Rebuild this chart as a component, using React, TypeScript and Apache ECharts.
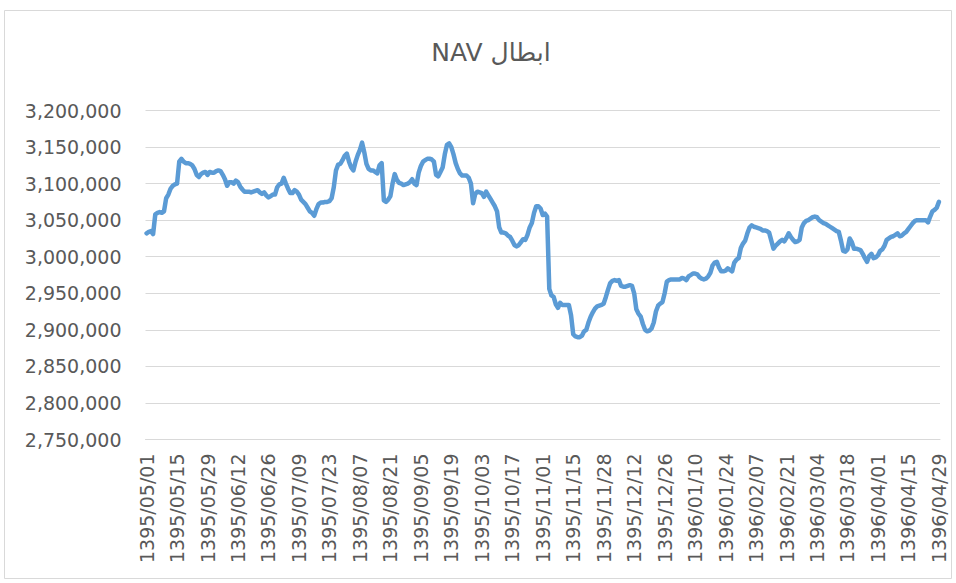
import React, { useEffect, useRef } from "react";
import * as echarts from "echarts";

const chartTitle = "NAV ابطال";

// Persian calendar months covered by the chart (year, month, number of days shown)
const calendarMonths = [
  { year: 1395, month: 5, days: 31 },
  { year: 1395, month: 6, days: 31 },
  { year: 1395, month: 7, days: 30 },
  { year: 1395, month: 8, days: 30 },
  { year: 1395, month: 9, days: 30 },
  { year: 1395, month: 10, days: 30 },
  { year: 1395, month: 11, days: 30 },
  { year: 1395, month: 12, days: 30 },
  { year: 1396, month: 1, days: 31 },
  { year: 1396, month: 2, days: 31 },
  { year: 1396, month: 3, days: 31 },
  { year: 1396, month: 4, days: 29 },
];
// the source sheet holds this date twice
const repeatedDate = "1395/11/21";

// NAV (ابطال) in thousands
const navA = [
  3032, 3034, 3035, 3031, 3058, 3060, 3061, 3060, 3062, 3080,
  3085, 3093, 3097, 3099, 3100, 3130, 3134, 3130, 3128, 3128,
  3127, 3125, 3120, 3112, 3109, 3113, 3115, 3116, 3112, 3116,
  3115, 3115, 3117, 3118, 3117, 3112, 3106, 3097, 3102, 3102,
  3100, 3104, 3102, 3096, 3092, 3089, 3089, 3089, 3088, 3089,
  3090, 3091, 3088, 3086, 3088, 3084, 3081, 3083, 3085, 3085,
];
const navB = [
  3095, 3099, 3100, 3108, 3100, 3093, 3087, 3087, 3091, 3089,
  3085, 3078, 3075, 3072, 3067, 3062, 3060, 3056, 3065, 3072,
  3074, 3074, 3075, 3075, 3076, 3080, 3095, 3118, 3126, 3127,
  3132, 3138, 3141, 3130, 3122, 3118, 3130, 3139, 3146, 3156,
  3143, 3127, 3120, 3118, 3118, 3116, 3114, 3125, 3128, 3077,
  3075, 3078, 3083, 3100, 3113, 3105, 3101, 3100, 3098, 3099,
];
const navC = [
  3100, 3102, 3106, 3100, 3098, 3115, 3124, 3130, 3132, 3134,
  3134, 3133, 3130, 3112, 3110, 3116, 3122, 3140, 3153, 3155,
  3150, 3140, 3128, 3120, 3114, 3111, 3111, 3111, 3108, 3100,
  3073, 3086, 3089, 3088, 3087, 3082, 3089, 3084, 3079, 3074,
  3069, 3062, 3040, 3033, 3033, 3032, 3029, 3027, 3022, 3016,
  3014, 3016, 3020, 3024, 3023, 3030, 3040, 3046, 3060, 3069,
];
const navD = [
  3069, 3066, 3057, 3059, 3055, 2956, 2947, 2945, 2935, 2930,
  2937, 2934, 2934, 2934, 2934, 2920, 2894, 2891, 2890, 2890,
  2892, 2898, 2900, 2910, 2918, 2924, 2929, 2932, 2933, 2934,
  2936, 2945, 2955, 2964, 2967, 2968, 2967, 2968, 2960, 2959,
  2959, 2960, 2961, 2960, 2950, 2928, 2922, 2918, 2908, 2900,
  2898, 2899, 2902, 2910, 2925, 2933, 2936, 2938, 2950, 2966,
];
const navE = [
  2968, 2969, 2969, 2969, 2969, 2969, 2971, 2970, 2968, 2973,
  2975, 2977, 2977, 2976, 2972, 2970, 2969, 2970, 2973, 2978,
  2988, 2992, 2993, 2985, 2980, 2980, 2981, 2984, 2982, 2980,
  2992, 2996, 2998, 3012, 3018, 3022, 3032, 3040, 3043, 3041,
  3040, 3039, 3038, 3036, 3036, 3035, 3033, 3022, 3011, 3015,
  3018, 3021, 3023, 3021, 3026, 3032, 3027, 3023, 3020, 3021,
];
const navF = [
  3023, 3040, 3046, 3049, 3050, 3052, 3054, 3055, 3054, 3050,
  3048, 3046, 3045, 3043, 3041, 3039, 3037, 3035, 3034, 3022,
  3008, 3007, 3010, 3025, 3020, 3011, 3011, 3010, 3009, 3004,
  2998, 2993, 3001, 3004, 2998, 2999, 3002, 3008, 3010, 3015,
  3023, 3025, 3027, 3028, 3030, 3032, 3028, 3029, 3032, 3034,
  3038, 3042, 3046, 3049, 3050, 3050, 3050, 3050, 3050, 3047,
  3055, 3062, 3064, 3067, 3075,
];

const yMin = 2750000;
const yMax = 3200000;
const yStep = 50000;

function pad(n: number) {
  return n < 10 ? "0" + n : String(n);
}

function buildDates(): string[] {
  const out: string[] = [];
  for (const m of calendarMonths) {
    for (let d = 1; d <= m.days; d++) {
      const s = `${m.year}/${pad(m.month)}/${pad(d)}`;
      out.push(s);
      if (s === repeatedDate) out.push(s);
    }
  }
  return out;
}

export default function App() {
  const ref = useRef<HTMLDivElement>(null);

  useEffect(() => {
    if (!ref.current) return;
    const chart = echarts.init(ref.current, undefined, { renderer: "svg" });
    const dates = buildDates();
    const nav = [...navA, ...navB, ...navC, ...navD, ...navE, ...navF].map(
      (v) => v * 1000
    );
    const font = "DejaVu Sans";
    const textColor = "#595959";

    chart.setOption({
      animation: false,
      backgroundColor: "#ffffff",
      title: {
        text: chartTitle,
        left: 486,
        top: 35,
        textAlign: "center",
        textStyle: {
          fontFamily: font,
          fontSize: 25,
          fontWeight: "normal",
          color: textColor,
        },
      },
      graphic: [
        {
          type: "rect",
          shape: { x: 4.5, y: 10.5, width: 947, height: 568 },
          style: { fill: "none", stroke: "#D9D9D9", lineWidth: 1 },
          silent: true,
        },
      ],
      grid: {
        left: 145.5,
        right: 16,
        top: 110.5,
        bottom: 143.5,
        containLabel: false,
        outerBoundsMode: "none",
      },
      xAxis: {
        type: "category",
        data: dates,
        boundaryGap: true,
        axisLine: { show: true, lineStyle: { color: "#D9D9D9", width: 1 } },
        axisTick: { show: false },
        splitLine: { show: false },
        axisLabel: {
          interval: 13,
          rotate: 90,
          margin: 14,
          color: textColor,
          fontFamily: font,
          fontSize: 19,
        },
      },
      yAxis: {
        type: "value",
        min: yMin,
        max: yMax,
        interval: yStep,
        axisLine: { show: false },
        axisTick: { show: false },
        splitLine: { show: true, lineStyle: { color: "#D9D9D9", width: 1 } },
        axisLabel: {
          margin: 24,
          color: textColor,
          fontFamily: font,
          fontSize: 19,
          formatter: (v: number) => v.toLocaleString("en-US"),
        },
      },
      series: [
        {
          type: "line",
          data: nav,
          symbol: "none",
          smooth: false,
          lineStyle: { color: "#5B9BD5", width: 4.5, join: "round", cap: "round" },
        },
      ],
    });

    return () => chart.dispose();
  }, []);

  return (
    <div
      ref={ref}
      style={{ position: "absolute", left: 0, top: 0, width: 956, height: 583 }}
    />
  );
}
